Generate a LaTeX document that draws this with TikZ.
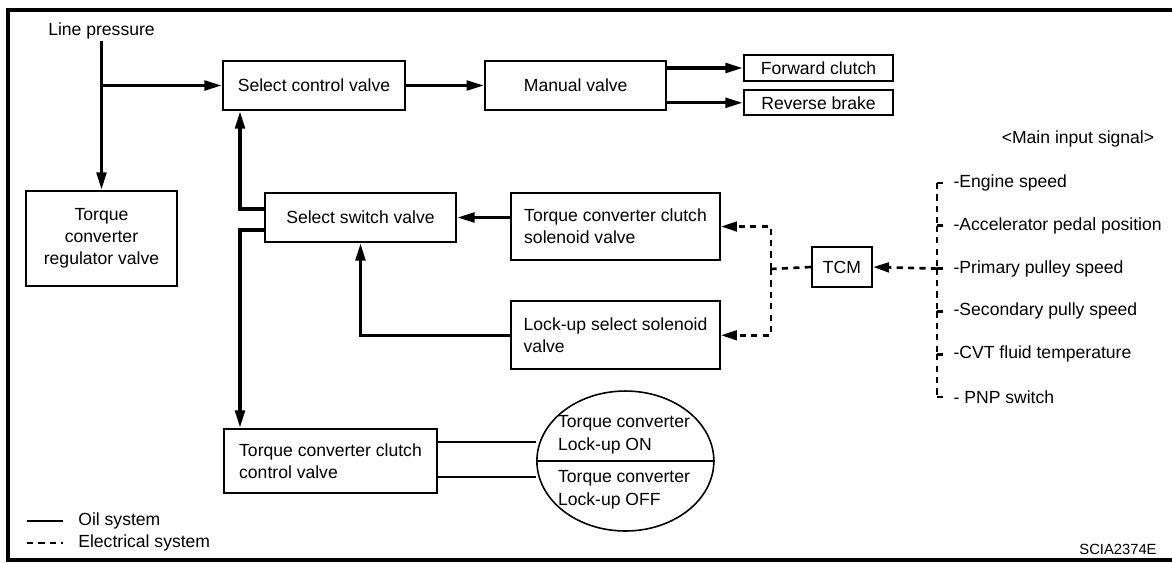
\documentclass[tikz,border=0pt]{standalone}
\usepackage{fontspec}
\setmainfont{Liberation Sans}
\usetikzlibrary{arrows.meta,positioning,shapes.geometric}

\begin{document}
\begin{tikzpicture}[x=0.02cm, y=-0.02cm,
    font=\fontsize{10}{12.5}\selectfont,
    box/.style={draw, line width=1.3pt, inner sep=0pt, align=center},
    txtbox/.style={box, align=left},
    oil/.style={line width=1.9pt},
    arrow/.style={oil, -{Triangle[length=10pt, width=5.5pt]}},
    elec/.style={line width=1.5pt, dash pattern=on 3.5pt off 3pt},
    elecarrow/.style={elec, -{Triangle[length=9pt, width=5.5pt]}},
    signal/.style={anchor=west, inner sep=0pt, inner xsep=3pt}
  ]
  \useasboundingbox (0,0) rectangle (1172,562);
  \draw[line width=1.8pt] (1172,10) -- (8,10) -- (8,560) -- (1172,560);

  \node[inner sep=1pt] (lp) at (101.5,31) {Line pressure};
  \node[box, minimum width=3.64cm, minimum height=0.98cm] (scv) at (314,85.5) {Select control valve};
  \node[box, minimum width=3.62cm, minimum height=0.98cm, right=1.56cm of scv] (mv) {Manual valve};
  \node[box, minimum width=2.98cm, minimum height=0.52cm] (fwd) at (818.5,68) {Forward clutch};
  \node[box, minimum width=2.98cm, minimum height=0.5cm, below=0.14cm of fwd] (rev) {Reverse brake};
  \node[box, minimum width=3.02cm, minimum height=1.9cm] (reg) at (101.5,238.5) {Torque\\converter\\regulator valve};
  \node[box, minimum width=3.82cm, minimum height=0.98cm] (ssv) at (360.5,217.5) {Select switch valve};
  \node[txtbox, minimum width=4.18cm, minimum height=1.34cm] (tccs) at (615.5,226.5) {Torque converter clutch\\solenoid valve};
  \node[txtbox, minimum width=4.18cm, minimum height=1.36cm, below=0.78cm of tccs] (lus) {Lock-up select solenoid\\valve};
  \node[box, minimum width=1.2cm, minimum height=0.8cm] (tcm) at (842,267) {TCM};
  \node[txtbox, minimum width=4.26cm, minimum height=1.28cm] (tccc) at (330.5,461) {Torque converter clutch\\control valve};
  \node[ellipse, draw, line width=0.9pt, inner sep=0pt, minimum width=3.54cm, minimum height=2.8cm,
        right=1.96cm of tccc] (ell) {};
  \node[align=left, inner sep=0pt, font=\fontsize{10}{13}\selectfont] (lockon) at (624,434.5) {Torque converter\\Lock-up ON};
  \node[align=left, inner sep=0pt, font=\fontsize{10}{13}\selectfont] (lockoff) at (624,490) {Torque converter\\Lock-up OFF};
  \draw[line width=0.9pt] (ell.west) -- (ell.east);

  \draw[arrow] (lp.south) -- (reg.north);
  \draw[arrow] (lp.south |- scv.west) -- (scv.west);
  \draw[arrow] (scv) -- (mv);
  \draw[arrow] (mv.east |- fwd.west) -- (fwd.west);
  \draw[arrow] (mv.east |- rev.west) -- (rev.west);
  \draw[arrow] (tccs.west |- ssv.east) -- (ssv.east);
  \draw[arrow] (lus.west) -| (ssv.south);
  \coordinate (up) at (240,209);
  \coordinate (down) at (240,230);
  \draw[arrow] (ssv.west |- up) -- (up) -- (up |- scv.south);
  \draw[arrow] (ssv.west |- down) -- (down) -- (down |- tccc.north);
  \draw[line width=1.3pt] (tccc.east |- 0,442) -- (ell.west |- 0,442);
  \draw[line width=1.3pt] (tccc.east |- 0,477) -- (ell.west |- 0,477);

  \coordinate (split) at (771,269);
  \draw[elec] (tcm.west) -- (split);
  \draw[elecarrow] (split) |- (tccs.east);
  \draw[elecarrow] (split) |- (lus.east);

  \node (mainin) at (1078,139) {<Main input signal>};
  \coordinate (bus) at (937,183);
  \foreach \txt [count=\i] in {-Engine speed, -Accelerator pedal position, -Primary pulley speed,
      -Secondary pully speed, -CVT fluid temperature, - PNP switch} {
    \node[signal] (sig\i) at (948,{183+42.8*(\i-1)}) {\txt};
    \draw[elec] (sig\i.west -| bus) -- (sig\i.west);
  }
  \foreach \i [evaluate=\i as \j using int(\i+1)] in {1,...,5}
    \draw[elec] (sig\i.west -| bus) -- (sig\j.west -| bus);
  \draw[elecarrow] (sig3.west -| bus) -- (tcm.east);

  \coordinate (oila) at (27,521);
  \coordinate (oilb) at (63,521);
  \coordinate (eleca) at (27,543);
  \coordinate (elecb) at (63,543);
  \draw[line width=1.6pt] (oila) -- (oilb);
  \draw[elec] (eleca) -- (elecb);
  \node[signal, inner xsep=0pt] (legoil) at (78,521) {Oil system};
  \node[signal, inner xsep=0pt] (legelec) at (78,543) {Electrical system};
  \node[font=\fontsize{8.4}{10}\selectfont] (code) at (1118,549) {SCIA2374E};
\end{tikzpicture}
\end{document}
